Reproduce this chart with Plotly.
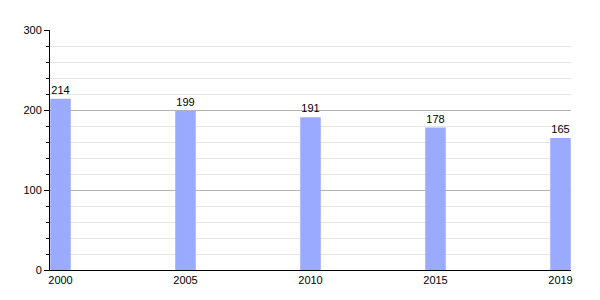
import plotly.graph_objects as go

years = ["2000", "2005", "2010", "2015", "2019"]
values = [214, 199, 191, 178, 165]

fig = go.Figure()
fig.add_trace(go.Bar(
    x=years, y=values,
    width=0.164,
    marker=dict(color="#99aaff", line=dict(width=0)),
    text=[str(v) for v in values],
    textposition="outside",
    textfont=dict(family="Liberation Sans, Arial", size=11, color="black"),
    cliponaxis=False,
))
fig.update_layout(
    width=600, height=300,
    margin=dict(l=50, r=29, t=30, b=30),
    paper_bgcolor="white", plot_bgcolor="white",
    showlegend=False,
    font=dict(family="Liberation Sans, Arial", size=11, color="black"),
    xaxis=dict(
        type="category", range=[-0.084, 4.084],
        showline=True, linecolor="black", linewidth=1,
        ticks="", showgrid=False, tickfont=dict(size=11),
    ),
    yaxis=dict(
        range=[0, 300], tickvals=[0, 100, 200, 300],
        showline=True, linecolor="black", linewidth=1,
        ticks="outside", ticklen=5, tickcolor="black",
        showgrid=True, gridcolor="#b4b4b4", gridwidth=1,
        zeroline=False,
        minor=dict(dtick=20, showgrid=True, gridcolor="#e6e6e6",
                   ticks="outside", ticklen=3, tickcolor="black"),
        tickfont=dict(size=11),
    ),
)
fig.write_html("out.html")
